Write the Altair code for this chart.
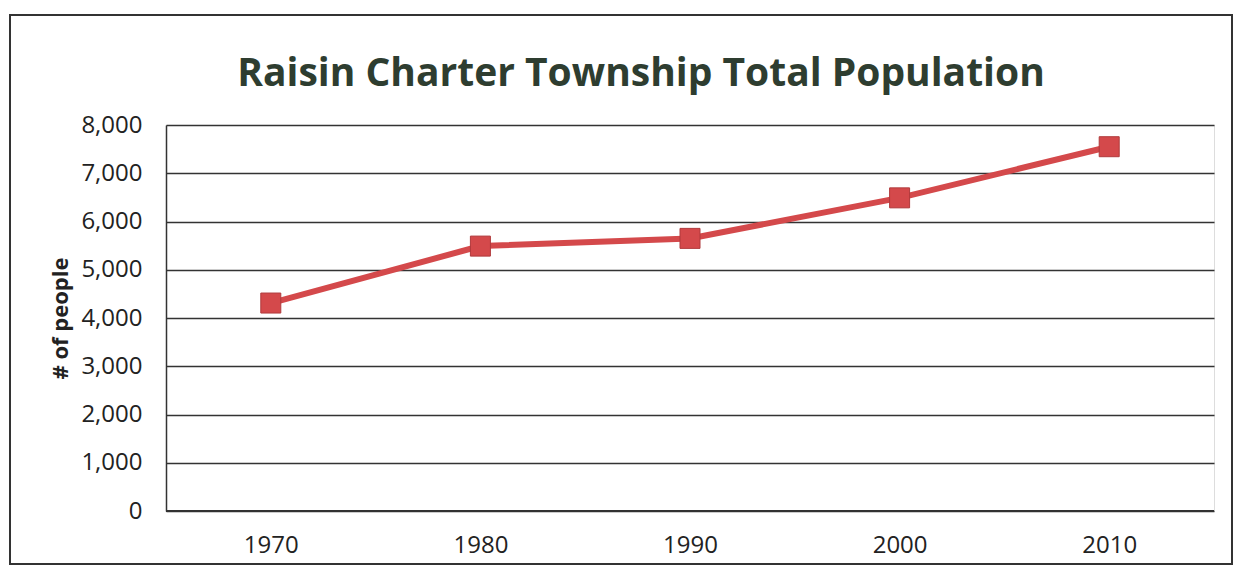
import altair as alt
import pandas as pd

years = ["1970", "1980", "1990", "2000", "2010"]
population = [4310, 5490, 5650, 6490, 7550]
y_ticks = [0, 1000, 2000, 3000, 4000, 5000, 6000, 7000, 8000]

df = pd.DataFrame({"year": years, "pop": population})

FONT = "Open Sans"
RED = "#d4494b"

x_enc = alt.X("year:N", sort=years,
              scale=alt.Scale(paddingInner=0, paddingOuter=0),
              axis=alt.Axis(title=None, labelAngle=0, ticks=False, domain=False,
                            labelFont=FONT, labelFontSize=24, labelColor="#222222",
                            labelPadding=22, grid=False))
y_enc = alt.Y("pop:Q", scale=alt.Scale(domain=[0, 8000], nice=False),
              axis=alt.Axis(values=y_ticks, format=",d", title="# of people",
                            titleFont=FONT, titleFontSize=22, titleFontWeight="bold",
                            titleColor="#222222", titlePadding=8,
                            labelFont=FONT, labelFontSize=24, labelColor="#222222",
                            labelPadding=24, ticks=False, domain=True,
                            domainColor="#333333", domainWidth=1.5,
                            grid=True, gridColor="#333333", gridWidth=1.5,
                            gridOpacity=1))

frame = alt.Chart(df).mark_rect(fill=None, stroke="#333333", strokeWidth=2).encode(
    x=alt.value(-156), x2=alt.value(1066), y=alt.value(-110), y2=alt.value(439)
)

line = alt.Chart(df).mark_line(color=RED, strokeWidth=6).encode(x=x_enc, y=y_enc)
points = alt.Chart(df).mark_point(shape="square", filled=True, size=400, opacity=1,
                                  color=RED, stroke="#b03a3c", strokeWidth=1).encode(
    x=alt.X("year:N", sort=years), y="pop:Q")

bottom = alt.Chart(df).mark_rule(color="#333333", strokeWidth=1.5).encode(
    y=alt.datum(0))

chart = alt.layer(frame, line, bottom, points).properties(
    width=1048, height=386,
    title=alt.TitleParams("Raisin Charter Township Total Population",
                          font=FONT, fontSize=39, fontWeight="bold",
                          color="#2e3d30", anchor="middle", dx=-49,
                          baseline="alphabetic", offset=-111),
    autosize=alt.AutoSizeParams(type="none"),
    padding={"left": 158, "top": 117, "right": 19, "bottom": 54},
).configure_view(stroke=None).configure(background="white")

chart.save("out.html", embed_options={"renderer": "svg", "actions": False})
